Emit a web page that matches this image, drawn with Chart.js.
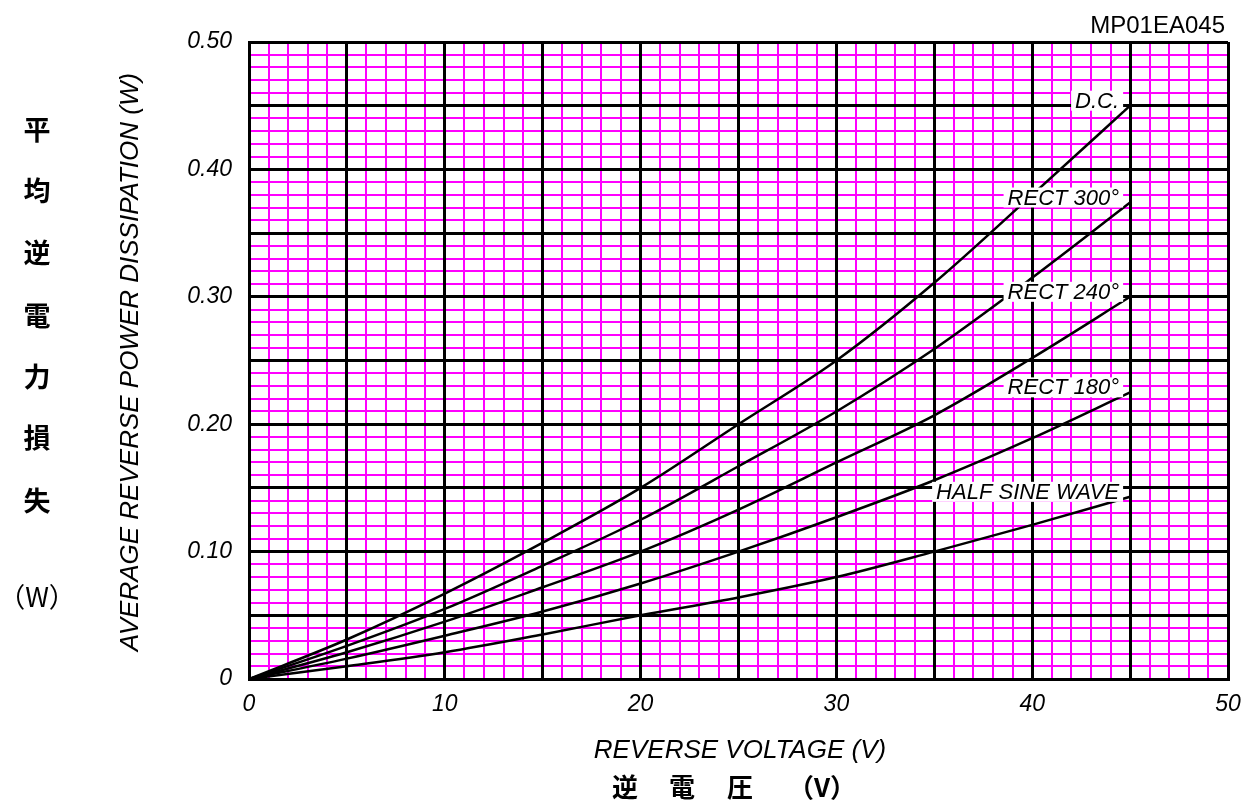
<!DOCTYPE html>
<html>
<head>
<meta charset="utf-8">
<script src="https://cdn.jsdelivr.net/npm/chart.js@4.4.0/dist/chart.umd.min.js"></script>
<style>
  html, body { margin: 0; padding: 0; background: #fff; }
  #wrap { width: 1246px; height: 803px; }
</style>
</head>
<body>
<div id="wrap"><canvas id="chart" width="1246" height="803"></canvas></div>
<script>
// values (reverse voltage V -> power W)
const voltage = [0, 5, 10, 15, 20, 25, 30, 35, 40, 45];
const dc      = [0, 0.031, 0.067, 0.107, 0.150, 0.200, 0.250, 0.311, 0.380, 0.450];
const rect300 = [0, 0.026, 0.055, 0.089, 0.125, 0.167, 0.210, 0.259, 0.315, 0.374];
const rect240 = [0, 0.021, 0.045, 0.072, 0.100, 0.133, 0.170, 0.207, 0.252, 0.300];
const rect180 = [0, 0.016, 0.034, 0.053, 0.075, 0.100, 0.127, 0.156, 0.189, 0.225];
const halfSine = [0, 0.010, 0.021, 0.035, 0.050, 0.064, 0.080, 0.100, 0.121, 0.143];

const seriesNames = ['D.C.', 'RECT 300°', 'RECT 240°', 'RECT 180°', 'HALF SINE WAVE'];
const seriesValues = [dc, rect300, rect240, rect180, halfSine];

const xTitle = 'REVERSE VOLTAGE (V)';
const yTitle = 'AVERAGE REVERSE POWER DISSIPATION (W)';
const xTitleJp = ['逆', '電', '圧', '（V）'];
const yTitleJp = ['平', '均', '逆', '電', '力', '損', '失', '（W）'];
const chartCode = 'MP01EA045';

const LAT = "'Liberation Sans', Arial, sans-serif";
const JP = "'Noto Sans CJK JP', sans-serif";

function toPoints(vals) {
  return voltage.map((v, i) => ({ x: v, y: vals[i] }));
}

const datasets = seriesValues.map((vals, i) => ({
  label: seriesNames[i],
  data: toPoints(vals),
  borderColor: '#000',
  borderWidth: 2.5,
  pointRadius: 0,
  fill: false,
  cubicInterpolationMode: 'monotone'
}));

// curve names, extra titles
const textPlugin = {
  id: 'texts',
  afterDatasetsDraw(chart) {
    const ctx = chart.ctx;
    ctx.save();
    ctx.font = 'italic 22px ' + LAT;
    ctx.textAlign = 'right';
    ctx.textBaseline = 'middle';
    chart.data.datasets.forEach((ds, i) => {
      const pts = chart.getDatasetMeta(i).data;
      const last = pts[pts.length - 1];
      const rx = last.x - 11;
      const cy = last.y - 5;
      const w = ctx.measureText(ds.label).width;
      ctx.fillStyle = '#fff';
      ctx.fillRect(rx - w - 4, cy - 10, w + 8, 20);
      ctx.fillStyle = '#000';
      ctx.fillText(ds.label, rx, cy + 1);
    });
    ctx.restore();
  },
  afterDraw(chart) {
    const ctx = chart.ctx;
    ctx.save();
    ctx.fillStyle = '#000';
    ctx.textBaseline = 'middle';

    ctx.font = '24px ' + LAT;
    ctx.textAlign = 'right';
    ctx.fillText(chartCode, 1225, 26);

    ctx.textAlign = 'center';
    ctx.font = 'italic 26px ' + LAT;
    ctx.fillText(xTitle, 740, 751);

    ctx.save();
    ctx.translate(131, 362);
    ctx.rotate(-Math.PI / 2);
    ctx.fillText(yTitle, 0, 0);
    ctx.restore();

    ctx.font = 'bold 26px ' + JP;
    const jpX = [625, 682, 740, 822];
    xTitleJp.forEach((c, i) => ctx.fillText(c, jpX[i], 787));

    const jpY = [130, 191, 253, 316, 377, 438, 501, 597];
    yTitleJp.forEach((c, i) => {
      ctx.font = (i === 7 ? '27px ' : 'bold 27px ') + JP;
      ctx.fillText(c, 37, jpY[i]);
    });
    ctx.restore();
  }
};

new Chart(document.getElementById('chart'), {
  type: 'line',
  data: { datasets: datasets },
  plugins: [textPlugin],
  options: {
    responsive: false,
    animation: false,
    events: [],
    layout: { padding: { left: 0, top: 42, right: 18, bottom: 0 } },
    plugins: { legend: { display: false }, tooltip: { enabled: false } },
    scales: {
      x: {
        type: 'linear', position: 'bottom', min: 0, max: 50,
        ticks: {
          stepSize: 5, autoSkip: false, maxRotation: 0, padding: 12,
          color: '#000', font: { family: LAT, size: 23, style: 'italic' },
          callback: v => (v % 10 === 0 ? String(v) : '')
        },
        grid: { color: '#000', lineWidth: 3, drawTicks: false, z: -1 },
        border: { display: true, color: '#000', width: 3 },
        afterFit: s => { s.height = 124; s.paddingLeft = 0; s.paddingRight = 0; }
      },
      xMinor: {
        type: 'linear', position: 'top', min: 0, max: 50,
        ticks: { display: false, stepSize: 1, autoSkip: false },
        grid: { color: '#ff00ff', lineWidth: 2, drawTicks: false, z: -2 },
        border: { display: false },
        afterFit: s => { s.height = 0; s.paddingLeft = 0; s.paddingRight = 0; }
      },
      y: {
        type: 'linear', position: 'left', min: 0, max: 0.5,
        ticks: {
          stepSize: 0.05, autoSkip: false, padding: 17,
          color: '#000', font: { family: LAT, size: 23, style: 'italic' },
          callback: v => {
            const c = Math.round(v * 100);
            if (c % 10 !== 0) return '';
            return c === 0 ? '0' : (c / 100).toFixed(2);
          }
        },
        grid: { color: '#000', lineWidth: 3, drawTicks: false, z: -1 },
        border: { display: true, color: '#000', width: 3 },
        afterFit: s => { s.width = 249; s.paddingTop = 0; s.paddingBottom = 0; }
      },
      yMinor: {
        type: 'linear', position: 'right', min: 0, max: 0.5,
        ticks: { display: false, stepSize: 0.01, autoSkip: false },
        grid: { color: '#ff00ff', lineWidth: 2, drawTicks: false, z: -2 },
        border: { display: false },
        afterFit: s => { s.width = 0; s.paddingTop = 0; s.paddingBottom = 0; }
      }
    }
  }
});
</script>
</body>
</html>
